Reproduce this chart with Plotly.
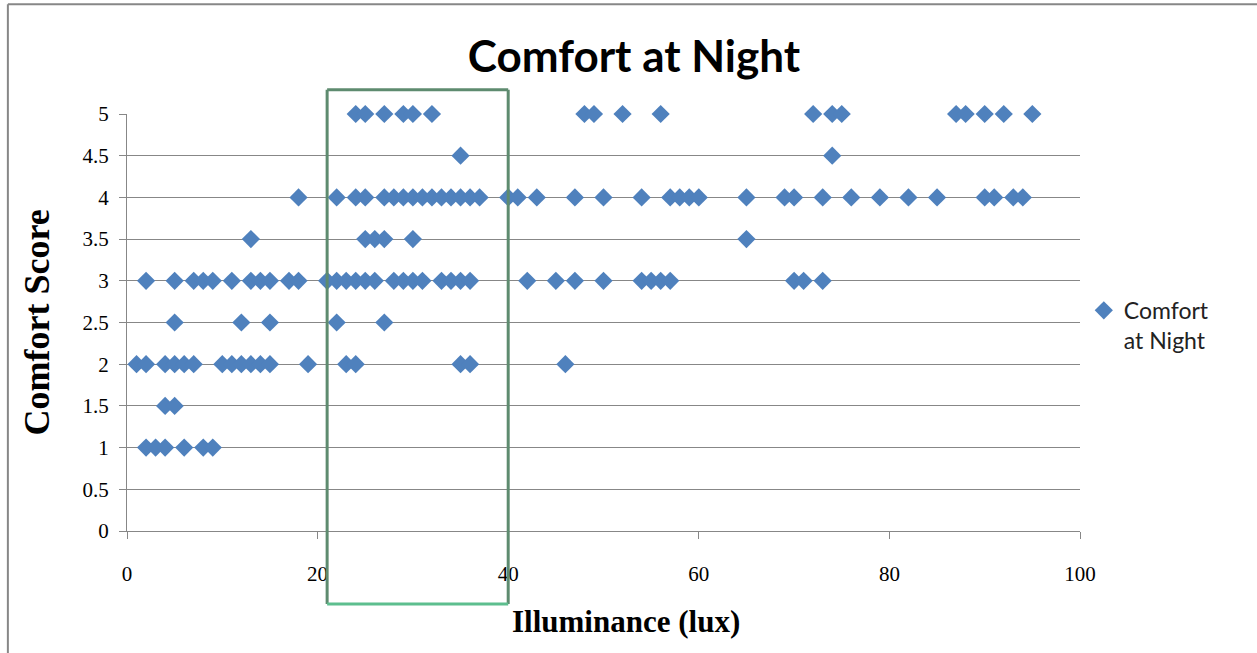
import plotly.graph_objects as go

# Illuminance readings (lux) grouped by the comfort score they received
lux_score_5 = [24, 25, 27, 29, 30, 32, 48, 49, 52, 56, 72, 74, 75, 87, 88, 90, 92, 95]
lux_score_4_5 = [35, 74]
lux_score_4 = [18, 22, 24, 25, 27, 28, 29, 30, 31, 32, 33, 34, 35, 36, 37, 40, 41, 43,
               47, 50, 54, 57, 58, 59, 60, 65, 69, 70, 73, 76, 79, 82, 85, 90, 91, 93, 94]
lux_score_3_5 = [13, 25, 26, 27, 30, 65]
lux_score_3 = [2, 5, 7, 8, 9, 11, 13, 14, 15, 17, 18, 21, 22, 23, 24, 25, 26, 28, 29, 30,
               31, 33, 34, 35, 36, 42, 45, 47, 50, 54, 55, 56, 57, 70, 71, 73]
lux_score_2_5 = [5, 12, 15, 22, 27]
lux_score_2 = [1, 2, 4, 5, 6, 7, 10, 11, 12, 13, 14, 15, 19, 23, 24, 35, 36, 46]
lux_score_1_5 = [4, 5]
lux_score_1 = [2, 3, 4, 6, 8, 9]

scores = [5, 4.5, 4, 3.5, 3, 2.5, 2, 1.5, 1]
groups = [lux_score_5, lux_score_4_5, lux_score_4, lux_score_3_5, lux_score_3,
          lux_score_2_5, lux_score_2, lux_score_1_5, lux_score_1]

# Highlighted illuminance band
band_low, band_high = 21, 40

illuminance = []
comfort = []
for s, xs in zip(scores, groups):
    illuminance.extend(xs)
    comfort.extend([s] * len(xs))

GRID = "#878787"
BLUE = "#4F81BD"
SERIF = "Liberation Serif, Times New Roman, serif"
SANS = "Lato, Open Sans, sans-serif"

fig = go.Figure()
fig.add_trace(go.Scatter(
    x=illuminance, y=comfort, mode="markers",
    name="Comfort<br>at Night",
    marker=dict(symbol="diamond", size=14, color=BLUE, line=dict(width=0)),
    cliponaxis=False,
))

# Band outline around the 21-40 lux range (extends past the plot area)
side_color = "#5E8B6F"
fig.add_shape(type="line", xref="x", yref="paper", x0=band_low, x1=band_low,
              y0=-0.175, y1=1.058, line=dict(color=side_color, width=3), layer="above")
fig.add_shape(type="line", xref="x", yref="paper", x0=band_high, x1=band_high,
              y0=-0.175, y1=1.058, line=dict(color=side_color, width=3), layer="above")
fig.add_shape(type="line", xref="x", yref="paper", x0=band_low, x1=band_high,
              y0=1.058, y1=1.058, line=dict(color=side_color, width=3), layer="above")
fig.add_shape(type="line", xref="x", yref="paper", x0=band_low, x1=band_high,
              y0=-0.175, y1=-0.175, line=dict(color="#5DBE8E", width=3), layer="above")

# Chart frame (top and left edges)
fig.add_shape(type="line", xref="paper", yref="paper", x0=-0.125, x1=1.2,
              y0=1.263, y1=1.263, line=dict(color=GRID, width=2))
fig.add_shape(type="line", xref="paper", yref="paper", x0=-0.125, x1=-0.125,
              y0=-0.3, y1=1.263, line=dict(color=GRID, width=2))

# Axis titles
fig.add_annotation(text="<b>Illuminance (lux)</b>", xref="paper", yref="paper",
                   x=0.5236, y=-0.218, xanchor="center", yanchor="middle", showarrow=False,
                   font=dict(family=SERIF, size=31, color="black"))
fig.add_annotation(text="<b>Comfort Score</b>", xref="paper", yref="paper",
                   x=-0.0945, y=0.5, xanchor="center", yanchor="middle", showarrow=False,
                   textangle=-90, font=dict(family=SERIF, size=36, color="black"))

fig.update_layout(
    width=1257, height=653,
    margin=dict(l=127, r=177, t=114, b=122),
    paper_bgcolor="white", plot_bgcolor="white",
    title=dict(text="<b>Comfort at Night</b>", x=0.532, xref="paper", xanchor="center",
               y=0.913, yanchor="middle",
               font=dict(family=SANS, size=44, color="black")),
    showlegend=True,
    legend=dict(x=1.004, y=0.493, xanchor="left", yanchor="middle", valign="top",
                font=dict(family=SANS, size=23, color="#222"),
                bgcolor="rgba(0,0,0,0)", itemwidth=30),
    xaxis=dict(
        range=[0, 100], dtick=20, tick0=0,
        showgrid=False, zeroline=False,
        showline=True, linecolor=GRID, linewidth=1,
        ticks="outside", ticklen=7, tickcolor=GRID,
        ticklabelstandoff=17,
        tickfont=dict(family=SERIF, size=21, color="black"),
    ),
    yaxis=dict(
        range=[0, 5], dtick=0.5, tick0=0,
        showgrid=True, gridcolor=GRID, gridwidth=1,
        zeroline=False,
        showline=True, linecolor=GRID, linewidth=1,
        ticks="outside", ticklen=7, tickcolor=GRID,
        ticklabelstandoff=6,
        tickfont=dict(family=SERIF, size=21, color="black"),
    ),
)

fig.write_html("out.html")
